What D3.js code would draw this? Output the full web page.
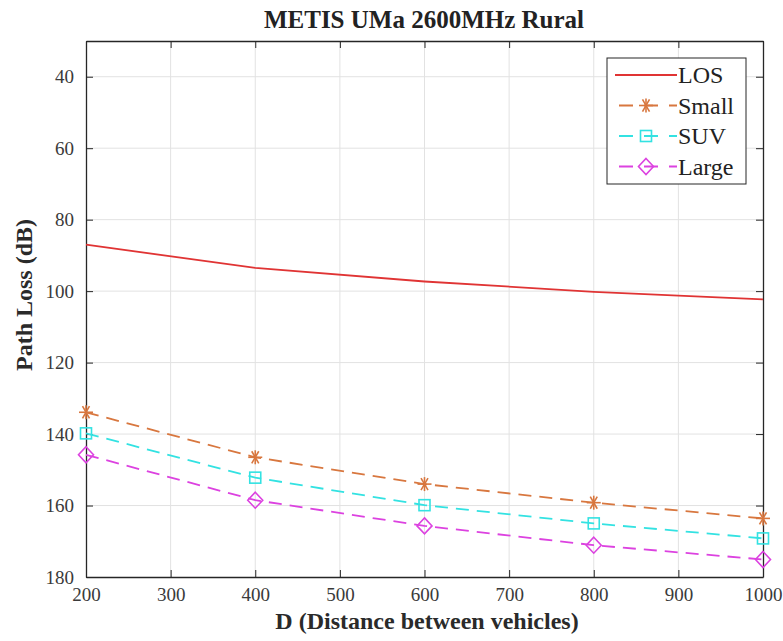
<!DOCTYPE html>
<html lang="en">
<head>
  <meta charset="UTF-8">
  <title>METIS UMa 2600MHz Rural</title>
  <script src="https://cdn.jsdelivr.net/npm/d3@7"></script>
  <style>
    body { margin: 0; background: #fff; }
  </style>
</head>
<body>
  <div id="container"></div>
  <script>
    // Data
    const distances = [200, 400, 600, 800, 1000];
    const los   = [87.0, 93.5, 97.3, 100.2, 102.3];
    const small = [133.9, 146.5, 154.0, 159.2, 163.6];
    const suv   = [139.8, 152.2, 159.9, 165.0, 169.2];
    const large = [145.8, 158.5, 165.7, 171.1, 175.1];
    const xTicks = [200, 300, 400, 500, 600, 700, 800, 900, 1000];
    const yTicks = [40, 60, 80, 100, 120, 140, 160, 180];

    const series = [
      { name: "LOS",   values: los,   color: "#e03434", dash: null,    marker: null },
      { name: "Small", values: small, color: "#d8773f", dash: "13 8",  marker: "star" },
      { name: "SUV",   values: suv,   color: "#33e2e2", dash: "13 8",  marker: "square" },
      { name: "Large", values: large, color: "#dc42e0", dash: "13 8",  marker: "diamond" }
    ];

    const serif = "Liberation Serif";
    const W = 783, H = 641;
    const margin = { top: 41, right: 20, bottom: 64, left: 86 };
    const width = 763 - margin.left;
    const height = 577 - margin.top;

    const svg = d3.select("#container").append("svg")
      .attr("width", W).attr("height", H)
      .attr("font-family", serif);
    const g = svg.append("g")
      .attr("transform", `translate(${margin.left},${margin.top})`);

    const x = d3.scaleLinear().domain([200, 1000]).range([0, width]);
    const y = d3.scaleLinear().domain([30, 180]).range([0, height]);

    // grid
    g.append("g").selectAll("line").data(xTicks.slice(1, -1)).enter().append("line")
      .attr("x1", d => x(d)).attr("x2", d => x(d))
      .attr("y1", 0).attr("y2", height)
      .attr("stroke", "#e2e2e2").attr("stroke-width", 1);
    g.append("g").selectAll("line").data(yTicks.slice(0, -1)).enter().append("line")
      .attr("x1", 0).attr("x2", width)
      .attr("y1", d => y(d)).attr("y2", d => y(d))
      .attr("stroke", "#e2e2e2").attr("stroke-width", 1);

    // axes, ticks pointing inward
    const tk = 7;
    const fmt = d3.format("d");
    const bottomAxis = g.append("g").attr("transform", `translate(0,${height})`)
      .call(d3.axisBottom(x).tickValues(xTicks).tickFormat(fmt).tickSizeInner(-tk).tickSizeOuter(0).tickPadding(14));
    const topAxis = g.append("g")
      .call(d3.axisTop(x).tickValues(xTicks).tickSizeInner(-tk).tickSizeOuter(0).tickFormat(""));
    const leftAxis = g.append("g")
      .call(d3.axisLeft(y).tickValues(yTicks).tickFormat(fmt).tickSizeInner(-tk).tickSizeOuter(0).tickPadding(12));
    const rightAxis = g.append("g").attr("transform", `translate(${width},0)`)
      .call(d3.axisRight(y).tickValues(yTicks).tickSizeInner(-tk).tickSizeOuter(0).tickFormat(""));
    [bottomAxis, topAxis, leftAxis, rightAxis].forEach(a => {
      a.attr("font-family", serif).attr("font-size", 19);
      a.select(".domain").attr("stroke", "#262626").attr("stroke-width", 1.3);
      a.selectAll(".tick line").attr("stroke", "#262626");
      a.selectAll(".tick text").attr("fill", "#3a3a3a").attr("font-family", serif);
    });
    bottomAxis.selectAll(".tick text").attr("dy", "0.55em");

    // lines
    const line = vals => d3.line()
      .x((d, i) => x(distances[i]))
      .y(d => y(d))(vals);

    series.forEach(s => {
      g.append("path")
        .attr("d", line(s.values))
        .attr("fill", "none")
        .attr("stroke", s.color)
        .attr("stroke-width", 1.8)
        .attr("stroke-dasharray", s.dash);
    });

    function drawMarker(sel, type, color, cx, cy) {
      if (type === "star") {
        const r = 7;
        const m = sel.append("g").attr("transform", `translate(${cx},${cy})`)
          .attr("stroke", color).attr("stroke-width", 1.6);
        [0, 60, 120].forEach(a => {
          const rad = a * Math.PI / 180;
          m.append("line")
            .attr("x1", -r * Math.cos(rad)).attr("y1", -r * Math.sin(rad))
            .attr("x2", r * Math.cos(rad)).attr("y2", r * Math.sin(rad));
        });
        m.append("line").attr("x1", 0).attr("x2", 0).attr("y1", -r).attr("y2", r);
      } else if (type === "square") {
        sel.append("rect")
          .attr("x", cx - 5.5).attr("y", cy - 5.5).attr("width", 11).attr("height", 11)
          .attr("fill", "none").attr("stroke", color).attr("stroke-width", 1.6);
      } else if (type === "diamond") {
        sel.append("path")
          .attr("d", `M${cx},${cy - 8}L${cx + 7.5},${cy}L${cx},${cy + 8}L${cx - 7.5},${cy}Z`)
          .attr("fill", "none").attr("stroke", color).attr("stroke-width", 1.6);
      }
    }

    series.filter(s => s.marker).forEach(s => {
      s.values.forEach((v, i) => drawMarker(g, s.marker, s.color, x(distances[i]), y(v)));
    });

    // title and axis labels
    svg.append("text")
      .attr("x", 424).attr("y", 28)
      .attr("text-anchor", "middle")
      .attr("font-family", serif).attr("font-size", 25).attr("font-weight", "bold").attr("fill", "#222")
      .text("METIS UMa 2600MHz Rural");

    svg.append("text")
      .attr("x", 427).attr("y", 629)
      .attr("text-anchor", "middle")
      .attr("font-family", serif).attr("font-size", 24).attr("font-weight", "bold").attr("fill", "#2a2a2a")
      .text("D (Distance between vehicles)");

    svg.append("text")
      .attr("transform", `translate(32,295) rotate(-90)`)
      .attr("text-anchor", "middle")
      .attr("font-family", serif).attr("font-size", 24).attr("font-weight", "bold").attr("fill", "#2a2a2a")
      .text("Path Loss (dB)");

    // legend
    const legend = svg.append("g").attr("transform", "translate(607,58)");
    legend.append("rect")
      .attr("width", 139).attr("height", 126)
      .attr("fill", "#fff").attr("stroke", "#262626").attr("stroke-width", 1);
    series.forEach((s, i) => {
      const ly = 17 + i * 30.5;
      legend.append("line")
        .attr("x1", 8).attr("x2", 70).attr("y1", ly).attr("y2", ly)
        .attr("stroke", s.color).attr("stroke-width", 1.8)
        .attr("stroke-dasharray", s.dash ? "14 11" : null)
        .attr("stroke-dashoffset", s.dash ? -4 : null);
      if (s.marker) drawMarker(legend, s.marker, s.color, 39, ly);
      legend.append("text")
        .attr("x", 71).attr("y", ly + 8)
        .attr("font-family", serif).attr("font-size", 24).attr("fill", "#222")
        .text(s.name);
    });
  </script>
</body>
</html>
